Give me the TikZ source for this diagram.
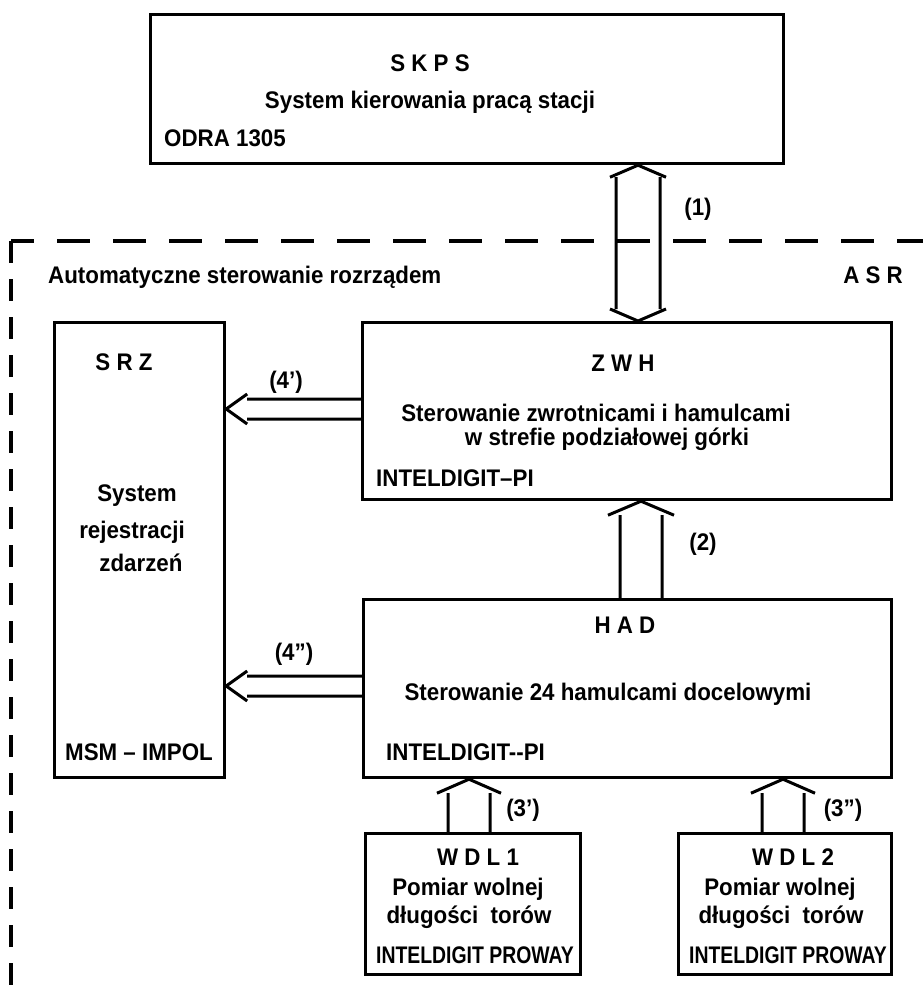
\documentclass[tikz,border=0pt]{standalone}
\usepackage{fontspec}
\usepackage{graphicx}
\setmainfont{Liberation Sans}
\newfontfamily\diagfont{Liberation Sans}[FakeStretch=0.93]
\usetikzlibrary{calc, positioning}
\tikzset{
  block/.style={
    rectangle,
    draw=black,
    line width = 3.2pt,
    anchor = north west,
    inner sep = 0pt,
  },
  lbl/.style={
    font = \diagfont\bfseries\fontsize{24pt}{24pt}\selectfont,
    inner sep = 0pt,
    text height = 17pt,
    text depth = 0pt,
  },
  frame/.style={
    line width = 3.4pt,
    draw = black,
  },
  % two parallel lines with an open head at the target
  bus/.style n args={3}{
    line width = 3pt,
    to path={
      ($(\tikztostart)!#1!90:(\tikztotarget)$) -- ($(\tikztotarget)!#3!(\tikztostart)!#1!-90:(\tikztostart)$)
      ($(\tikztostart)!#1!-90:(\tikztotarget)$) -- ($(\tikztotarget)!#3!(\tikztostart)!#1!90:(\tikztostart)$)
      ($(\tikztotarget)!#3!(\tikztostart)!#2!90:(\tikztostart)$) -- (\tikztotarget)
        -- ($(\tikztotarget)!#3!(\tikztostart)!#2!-90:(\tikztostart)$)
    },
  },
  % same, with a head at both ends
  busboth/.style n args={3}{
    line width = 3pt,
    to path={
      ($(\tikztostart)!#3!(\tikztotarget)!#1!90:(\tikztotarget)$) -- ($(\tikztotarget)!#3!(\tikztostart)!#1!-90:(\tikztostart)$)
      ($(\tikztostart)!#3!(\tikztotarget)!#1!-90:(\tikztotarget)$) -- ($(\tikztotarget)!#3!(\tikztostart)!#1!90:(\tikztostart)$)
      ($(\tikztotarget)!#3!(\tikztostart)!#2!90:(\tikztostart)$) -- (\tikztotarget)
        -- ($(\tikztotarget)!#3!(\tikztostart)!#2!-90:(\tikztostart)$)
      ($(\tikztostart)!#3!(\tikztotarget)!#2!90:(\tikztotarget)$) -- (\tikztostart)
        -- ($(\tikztostart)!#3!(\tikztotarget)!#2!-90:(\tikztotarget)$)
    },
  },
}

\begin{document}
\begin{tikzpicture}[x=1pt, y=-1pt]
    \useasboundingbox (0,0) rectangle (923,991);
    % ASR frame
    \draw [frame, dash pattern=on 33pt off 23pt, dash phase=10pt] (11,241) -- (923,241);
    \draw [frame, dash pattern=on 22pt off 16pt] (11,241) -- (11,991);
    % blocks
    \node (skps) [block, minimum width=633pt, minimum height=149pt] at (149,13) {};
    \node (srz) [block, minimum width=170pt, minimum height=455pt] at (53,321) {};
    \node (zwh) [block, minimum width=529pt, minimum height=177pt] at (361,321) {};
    \node (had) [block, minimum width=528pt, minimum height=178pt] at (362,598) {};
    \node (wdl1) [block, minimum width=215pt, minimum height=141pt] at (364,832) {};
    \node (wdl2) [block, minimum width=213pt, minimum height=141pt] at (677,832) {};
    % texts
    \node (skpsname) [lbl] at (430,63) {S K P S};
    \node (skpstext) [lbl] at (430,100) {System kierowania pracą stacji};
    \node (skpscomp) [lbl, anchor=west] at (164,138) {ODRA 1305};
    \node (asrtext) [lbl, anchor=west] at (48,275) {Automatyczne sterowanie rozrządem};
    \node (asrname) [lbl, anchor=east] at (903,275) {A S R};
    \node (srzname) [lbl] at (124,362) {S R Z};
    \node (srztext1) [lbl] at (137,493) {System};
    \node (srztext2) [lbl] at (132,530) {rejestracji};
    \node (srztext3) [lbl] at (141,563) {zdarzeń};
    \node (srzcomp) [lbl, anchor=west] at (65,752) {MSM – IMPOL};
    \node (zwhname) [lbl] at (623,363) {Z W H};
    \node (zwhtext1) [lbl] at (596,413) {Sterowanie zwrotnicami i hamulcami};
    \node (zwhtext2) [lbl] at (607,437) {w strefie podziałowej górki};
    \node (zwhcomp) [lbl, anchor=west] at (376,478) {INTELDIGIT–PI};
    \node (hadname) [lbl] at (625,625) {H A D};
    \node (hadtext) [lbl] at (608,692) {Sterowanie 24 hamulcami docelowymi};
    \node (hadcomp) [lbl, anchor=west] at (386,752) {INTELDIGIT-{}-PI};
    \node (wdl1name) [lbl] at (478,857) {W D L 1};
    \node (wdl1text1) [lbl] at (468,887) {Pomiar wolnej};
    \node (wdl1text2) [lbl] at (469,915) {długości\ \ torów};
    \node (wdl1comp) [lbl] at (475,955) {\scalebox{0.87}[1]{INTELDIGIT PROWAY}};
    \node (wdl2name) [lbl] at (793,857) {W D L 2};
    \node (wdl2text1) [lbl] at (780,887) {Pomiar wolnej};
    \node (wdl2text2) [lbl] at (781,915) {długości\ \ torów};
    \node (wdl2comp) [lbl] at (788,955) {\scalebox{0.87}[1]{INTELDIGIT PROWAY}};
    % links
    \coordinate (c1) at (638,0);
    \coordinate (c2) at (641,0);
    \coordinate (c3a) at (469,0);
    \coordinate (c3b) at (783,0);
    \coordinate (c4a) at (0,409);
    \coordinate (c4b) at (0,686);
    \draw [busboth={22pt}{28pt}{12pt}] (skps.south -| c1) to (zwh.north -| c1);
    \draw [bus={21pt}{33pt}{14pt}] (had.north -| c2) to (zwh.south -| c2);
    \draw [bus={21pt}{32pt}{14pt}] (wdl1.north -| c3a) to (had.south -| c3a);
    \draw [bus={21pt}{32pt}{14pt}] (wdl2.north -| c3b) to (had.south -| c3b);
    \draw [bus={10pt}{15pt}{21pt}] (zwh.west |- c4a) to (srz.east |- c4a);
    \draw [bus={10pt}{15pt}{21pt}] (had.west |- c4b) to (srz.east |- c4b);
    % link labels
    \node (l1) [lbl] at (698,207) {(1)};
    \node (l2) [lbl] at (703,542) {(2)};
    \node (l3a) [lbl] at (523,808) {(3’)};
    \node (l3b) [lbl] at (843,808) {(3”)};
    \node (l4a) [lbl] at (286,380) {(4’)};
    \node (l4b) [lbl] at (294,652) {(4”)};
\end{tikzpicture}
\end{document}
